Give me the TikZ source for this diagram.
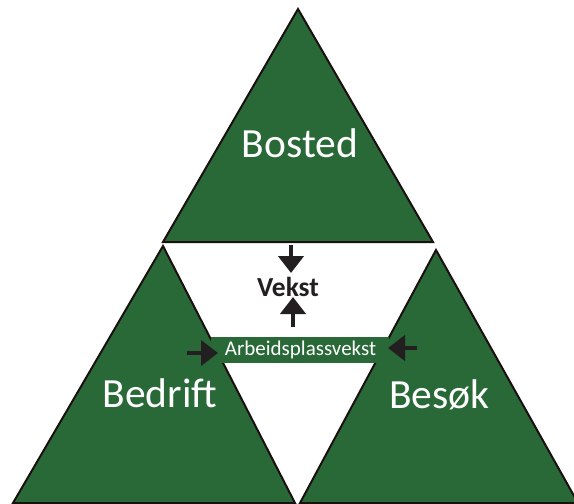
\documentclass[tikz,border=0pt]{standalone}
\usepackage{fontspec}
\setmainfont{Carlito}
\usetikzlibrary{arrows.meta}
\definecolor{tgreen}{RGB}{41,105,55}
\definecolor{tedge}{RGB}{26,16,16}
\definecolor{tdark}{RGB}{35,31,32}
\tikzset{
  tri/.style={fill=tgreen, draw=tedge, line width=2pt, line join=miter},
  biglabel/.style={text=white, anchor=base, inner sep=0pt, font=\fontsize{41.5}{48}\selectfont},
  blockarrow/.style={draw=tdark, line width=4.5pt, -{Triangle[length=17pt,width=25pt]}},
}
\begin{document}
\begin{tikzpicture}[x=1pt,y=-1pt]
\useasboundingbox (0,0) rectangle (574,504);
\clip (0,0) rectangle (574,504);
% triangles
\draw[tri] (163,242) -- (298,9) -- (433,242) -- cycle;
\draw[tri] (13,503) -- (163,246) -- (295,503) -- cycle;
\draw[tri] (300,503) -- (436,250) -- (578,503) -- cycle;
% labels
\node[biglabel] (bosted) at (300,157) {Bosted};
\node[biglabel] (bedrift) at (160,407) {Bedrift};
\node[biglabel] (besok) at (439.5,408) {Besøk};
% box
\node[fill=tgreen, minimum width=178pt, minimum height=26pt, inner sep=0pt] (box) at (300,350) {};
\node[text=white, anchor=base, inner sep=0pt, font=\fontsize{21}{24}\selectfont] (arb) at (300.5,355) {Arbeidsplassvekst};
\node[text=tdark, anchor=base, inner sep=0pt, font=\fontsize{27.5}{32}\selectfont\bfseries] (vekst) at (288,296) {Vekst};
% arrows
\coordinate (a1s) at (291,245); \coordinate (a1e) at (291,273);
\coordinate (a2s) at (293,327); \coordinate (a2e) at (293,297);
\coordinate (a3s) at (187,353); \coordinate (a3e) at (218,353);
\coordinate (a4s) at (417,348); \coordinate (a4e) at (388,348);
\draw[blockarrow] (a1s) -- (a1e);
\draw[blockarrow] (a2s) -- (a2e);
\draw[blockarrow] (a3s) -- (a3e);
\draw[blockarrow] (a4s) -- (a4e);
\end{tikzpicture}
\end{document}
